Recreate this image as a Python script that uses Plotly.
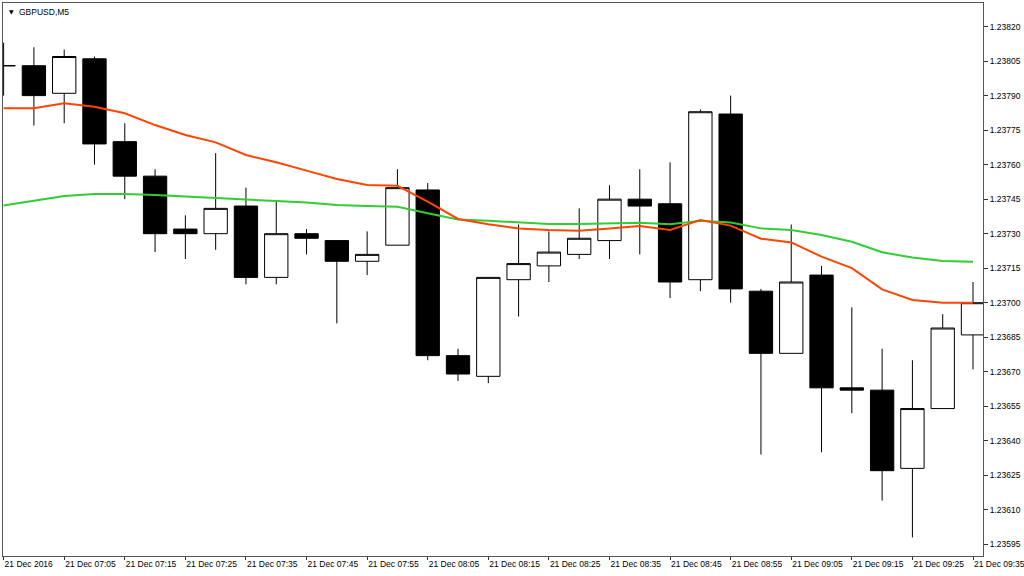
import plotly.graph_objects as go

# GBPUSD M5 bars, 21 Dec 2016, 06:55 .. 09:35
times = ["06:55", "07:00", "07:05", "07:10", "07:15", "07:20", "07:25", "07:30",
         "07:35", "07:40", "07:45", "07:50", "07:55", "08:00", "08:05", "08:10",
         "08:15", "08:20", "08:25", "08:30", "08:35", "08:40", "08:45", "08:50",
         "08:55", "09:00", "09:05", "09:10", "09:15", "09:20", "09:25", "09:30",
         "09:35"]

opens = [1.23803, 1.23803, 1.23791, 1.23806, 1.23770, 1.23755, 1.23732, 1.23730,
         1.23742, 1.23711, 1.23730, 1.23727, 1.23718, 1.23725, 1.23749, 1.23677,
         1.23668, 1.23710, 1.23716, 1.23721, 1.23727, 1.23745, 1.23743, 1.23710,
         1.23782, 1.23705, 1.23678, 1.23712, 1.23663, 1.23662, 1.23628, 1.23654,
         1.23686]
highs = [1.23813, 1.23811, 1.23810, 1.23807, 1.23778, 1.23758, 1.23738, 1.23765,
         1.23750, 1.23744, 1.23732, 1.23727, 1.23731, 1.23758, 1.23752, 1.23680,
         1.23711, 1.23734, 1.23731, 1.23741, 1.23751, 1.23758, 1.23761, 1.23784,
         1.23790, 1.23706, 1.23734, 1.23716, 1.23698, 1.23680, 1.23675, 1.23695,
         1.23709]
lows = [1.23790, 1.23777, 1.23778, 1.23760, 1.23745, 1.23722, 1.23719, 1.23723,
        1.23708, 1.23708, 1.23721, 1.23691, 1.23712, 1.23725, 1.23675, 1.23666,
        1.23665, 1.23694, 1.23709, 1.23719, 1.23719, 1.23721, 1.23702, 1.23705,
        1.23700, 1.23634, 1.23678, 1.23635, 1.23652, 1.23614, 1.23598, 1.23654,
        1.23671]
closes = [1.23803, 1.23790, 1.23807, 1.23769, 1.23755, 1.23730, 1.23730, 1.23741,
          1.23711, 1.23730, 1.23728, 1.23718, 1.23721, 1.23750, 1.23677, 1.23669,
          1.23711, 1.23717, 1.23722, 1.23728, 1.23745, 1.23742, 1.23709, 1.23783,
          1.23706, 1.23678, 1.23709, 1.23663, 1.23662, 1.23627, 1.23654, 1.23689,
          1.23700]

ma_fast = [1.237845, 1.237845, 1.237867, 1.237852, 1.237823, 1.237772, 1.237729, 1.237697,
           1.237642, 1.237610, 1.237574, 1.237538, 1.237512, 1.237508, 1.237439, 1.237364,
           1.237341, 1.237323, 1.237316, 1.237313, 1.237323, 1.237333, 1.237316, 1.237359,
           1.237335, 1.237278, 1.237262, 1.237200, 1.237150, 1.237058, 1.237012, 1.237000,
           1.237000]
ma_slow = [1.237422, 1.237442, 1.237464, 1.237472, 1.237472, 1.237468, 1.237461, 1.237456,
           1.237446, 1.237442, 1.237436, 1.237425, 1.237420, 1.237417, 1.237389, 1.237362,
           1.237356, 1.237349, 1.237342, 1.237342, 1.237345, 1.237348, 1.237341, 1.237356,
           1.237349, 1.237323, 1.237316, 1.237294, 1.237265, 1.237219, 1.237196, 1.237181,
           1.237178]

price_ticks = [1.23595, 1.23610, 1.23625, 1.23640, 1.23655, 1.23670, 1.23685, 1.23700,
               1.23715, 1.23730, 1.23745, 1.23760, 1.23775, 1.23790, 1.23805, 1.23820]

idx = list(range(len(times)))
tick_idx = idx[::2]
tick_text = ["21 Dec 2016"] + ["21 Dec " + t for t in times[2::2]]

font = dict(family="Liberation Sans, Arial, sans-serif", size=8.5, color="#000000")

fig = go.Figure()

fig.add_trace(go.Candlestick(
    x=idx, open=opens, high=highs, low=lows, close=closes,
    increasing=dict(line=dict(color="black", width=1), fillcolor="white"),
    decreasing=dict(line=dict(color="black", width=1), fillcolor="black"),
    whiskerwidth=0, showlegend=False, hoverinfo="skip",
))

fig.add_trace(go.Scatter(x=idx, y=ma_slow, mode="lines",
                         line=dict(color="#32CD32", width=2), showlegend=False))
fig.add_trace(go.Scatter(x=idx, y=ma_fast, mode="lines",
                         line=dict(color="#FF4500", width=2), showlegend=False))

fig.add_annotation(x=0.004, y=0.995, xref="paper", yref="paper", text="▼",
                   showarrow=False, xanchor="left", yanchor="top",
                   font=dict(family="DejaVu Sans", size=6, color="#000000"))
fig.add_annotation(x=0.0145, y=0.996, xref="paper", yref="paper", text="GBPUSD,M5",
                   showarrow=False, xanchor="left", yanchor="top", font=font)

fig.update_layout(
    width=1024, height=576,
    margin=dict(l=3, r=41, t=3, b=20),
    paper_bgcolor="white", plot_bgcolor="white",
    template="none",
    boxgap=0.23, boxgroupgap=0,
    font=font,
    hovermode=False,
    xaxis=dict(
        range=[-0.02, 32.33],
        tickvals=tick_idx, ticktext=tick_text,
        ticks="outside", ticklen=3, tickcolor="#333",
        ticklabelposition="outside right",
        ticklabeloverflow="allow",
        showgrid=False, zeroline=False,
        showline=True, linecolor="#555", linewidth=1, mirror=True,
        rangeslider=dict(visible=False),
        automargin=False, tickfont=font,
    ),
    yaxis=dict(
        range=[1.2358992, 1.2383025],
        side="right",
        tickvals=price_ticks, ticktext=["%.5f" % p for p in price_ticks],
        ticks="outside", ticklen=4, tickcolor="#333",
        showgrid=False, zeroline=False,
        showline=True, linecolor="#555", linewidth=1, mirror=True,
        automargin=False, tickfont=font,
    ),
)

fig.write_html("out.html", config={"displayModeBar": False},
               post_script="document.body.style.margin='0';"
                           "document.body.style.overflow='hidden';")
